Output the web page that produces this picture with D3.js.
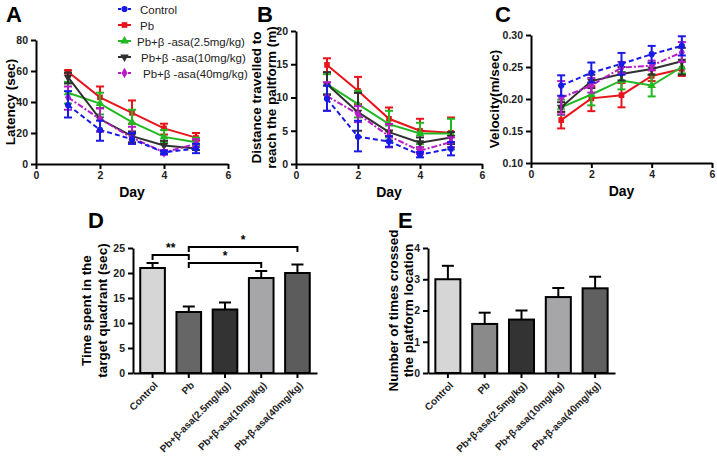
<!DOCTYPE html>
<html><head><meta charset="utf-8">
<script src="https://cdn.jsdelivr.net/npm/d3@7"></script>
<style>
body{margin:0;background:#fff;}
text{font-family:"Liberation Sans",Arial,sans-serif;}
</style></head>
<body><svg id="c" width="717" height="458"></svg>
<script>
const days = [1,2,3,4,5];
const seriesNames = ["Control","Pb","Pb+β -asa(2.5mg/kg)","Pb+β -asa(10mg/kg)","Pb+β -asa(40mg/kg)"];
const seriesColors = ["#1a1ae6","#e8141b","#22b822","#303030","#b81cc8"];
const seriesDash = ["5,3","","","","6,2,2,2"];
const seriesShape = ["circle","square","triangle","triangleDown","diamond"];

// Panel A: latency (mean, lower, upper)
const latMean = [[38,22,16,7.5,10],[59.5,43,33,23,17],[46,39,27,17.5,14],[56,29,18,12,10],[43,29,17,7.5,13]];
const latLo   = [[30,15,13,6.5,7],[58.5,36,26,19,15],[39,32,20,14,12],[52,21,14,8,9],[35,21,13,6,11]];
const latHi   = [[47,28,20,8.5,13],[60.5,50,41,26,20],[53,46,35,22,17],[59,36,21,15,11],[50,36,24,9,16]];
// Panel B: distance
const distMean = [[9.8,4.1,3.4,1.4,2.3],[14.9,11,6.8,5,4.7],[12,9,6,4.6,4.6],[12,7.8,4.8,3.2,4],[10.2,7.5,4.2,2,3.3]];
const distLo   = [[8,1.9,2.6,1,1.3],[13.8,9,5,3,2.5],[10.5,7,4,3,2.2],[10.4,5,3.5,2.5,3],[8,6.3,2.5,1.5,2.5]];
const distHi   = [[11.8,6.5,4.2,1.8,3.3],[15.9,13.1,8.5,6.8,7],[13.5,11,8,6.2,6.8],[13.8,10.7,6,4,4.8],[12.3,8.7,6,2.5,4]];
// Panel C: velocity
const velMean = [[0.221,0.241,0.255,0.270,0.283],[0.167,0.201,0.206,0.236,0.247],[0.187,0.207,0.229,0.221,0.250],[0.187,0.228,0.239,0.247,0.259],[0.202,0.221,0.249,0.252,0.273]];
const velLo   = [[0.205,0.226,0.238,0.256,0.268],[0.154,0.181,0.187,0.228,0.236],[0.175,0.190,0.215,0.204,0.240],[0.180,0.217,0.229,0.238,0.238],[0.176,0.210,0.240,0.245,0.258]];
const velHi   = [[0.237,0.257,0.272,0.283,0.298],[0.180,0.220,0.225,0.245,0.258],[0.199,0.225,0.242,0.238,0.260],[0.195,0.238,0.250,0.257,0.280],[0.228,0.233,0.258,0.260,0.289]];
const dayTicks = [0,2,4,6];

// Bar panels
const barCats = ["Control","Pb","Pb+β-asa(2.5mg/kg)","Pb+β-asa(10mg/kg)","Pb+β-asa(40mg/kg)"];
const timeMean = [21,12.2,12.7,19,20];
const timeHi   = [22,13.3,14.1,20.4,21.7];
const crossMean = [3.0,1.57,1.71,2.43,2.71];
const crossHi   = [3.43,1.93,2.0,2.72,3.08];
const barColorsD = ["#d6d6d6","#666666","#333333","#a6a6a8","#5c5c5c"];
const barColorsE = ["#d6d6d6","#8a8a8a","#333333","#a6a6a8","#606060"];
const sigLabels = ["**","*","*"];

const svg = d3.select("#c");

function sym(shape){
  const m = {circle:d3.symbolCircle,square:d3.symbolSquare,triangle:d3.symbolTriangle,triangleDown:d3.symbolTriangle,diamond:d3.symbolDiamond};
  return d3.symbol().type(m[shape]).size(shape==="circle"?30:32)();
}
function styleAxis(g){
  g.selectAll("path.domain").attr("stroke","#000").attr("stroke-width",2);
  g.selectAll(".tick line").attr("stroke","#000").attr("stroke-width",2);
  g.selectAll(".tick text").attr("font-size",10.5).attr("font-weight","bold").attr("fill","#222");
}
function linePanel(xr, yr, ydom, yticks, yfmt, mean, lo, hi, ylabels, ylabX, label, labelX){
  const x = d3.scaleLinear().domain([0,6]).range(xr);
  const y = d3.scaleLinear().domain(ydom).range(yr);
  const gx = svg.append("g").attr("transform",`translate(0,${yr[0]})`)
    .call(d3.axisBottom(x).tickValues(dayTicks).tickSize(5).tickSizeOuter(0).tickFormat(d3.format("d")));
  styleAxis(gx);
  const gy = svg.append("g").attr("transform",`translate(${xr[0]},0)`)
    .call(d3.axisLeft(y).tickValues(yticks).tickSize(5).tickSizeOuter(0).tickFormat(yfmt));
  styleAxis(gy);
  const order=[1,2,3,4,0];
  order.forEach(i=>{
    const g = svg.append("g");
    const col = seriesColors[i];
    days.forEach((d,j)=>{
      const cx=x(d);
      g.append("line").attr("x1",cx).attr("x2",cx).attr("y1",y(lo[i][j])).attr("y2",y(hi[i][j])).attr("stroke",col).attr("stroke-width",2);
      [lo[i][j],hi[i][j]].forEach(v=>g.append("line").attr("x1",cx-4).attr("x2",cx+4).attr("y1",y(v)).attr("y2",y(v)).attr("stroke",col).attr("stroke-width",2));
    });
    g.append("path").datum(mean[i]).attr("fill","none").attr("stroke",col).attr("stroke-width",2)
      .attr("stroke-dasharray",seriesDash[i]||null)
      .attr("d",d3.line().x((v,j)=>x(days[j])).y(v=>y(v)));
    days.forEach((d,j)=>{
      g.append("path").attr("d",sym(seriesShape[i]))
        .attr("transform",`translate(${x(d)},${y(mean[i][j])})${seriesShape[i]==="triangleDown"?" rotate(180)":""}`)
        .attr("fill",col);
    });
  });
  svg.append("text").attr("x",(xr[0]+xr[1])/2).attr("y",yr[0]+33).attr("text-anchor","middle")
    .attr("font-size",14).attr("font-weight","bold").text("Day");
  const cy=(yr[0]+yr[1])/2;
  ylabels.forEach((t,k)=>{
    svg.append("text").attr("transform",`translate(${ylabX[k]},${cy}) rotate(-90)`).attr("text-anchor","middle")
      .attr("font-size",13.5).attr("font-weight","bold").text(t);
  });
  svg.append("text").attr("x",labelX).attr("y",22).attr("font-size",22).attr("font-weight","bold").text(label);
}

linePanel([36,228],[164,40],[0,80],[0,20,40,60,80],d3.format("d"),latMean,latLo,latHi,["Latency (sec)"],[15],"A",6);
linePanel([296,482],[164,31],[0,20],[0,5,10,15,20],d3.format("d"),distMean,distLo,distHi,["Distance travelled to","reach the paltform (m)"],[261,276],"B",257);
linePanel([531,712],[163,35],[0.10,0.30],[0.10,0.15,0.20,0.25,0.30],d3.format(".2f"),velMean,velLo,velHi,["Velocity(m/sec)"],[499],"C",495);

// legend
const lg = svg.append("g");
seriesNames.forEach((n,i)=>{
  const yy = 9+i*16;
  lg.append("line").attr("x1",118).attr("x2",131).attr("y1",yy).attr("y2",yy).attr("stroke",seriesColors[i]).attr("stroke-width",2)
    .attr("stroke-dasharray",i===0?"3,2":(i===4?"3,2":null));
  lg.append("path").attr("d",sym(seriesShape[i])).attr("transform",`translate(124.5,${yy})${seriesShape[i]==="triangleDown"?" rotate(180)":""}`).attr("fill",seriesColors[i]);
  lg.append("text").attr("x",[140,140,137,141,143][i]).attr("y",yy+4.5).attr("font-size",11.5).attr("fill","#222").text(n);
});

function barPanel(xr, yr, ydom, yticks, mean, hi, colors, ylabels, ylabX, label, labelX){
  const x = d3.scaleBand().domain(barCats).range(xr).paddingInner(0.32).paddingOuter(0.2);
  const y = d3.scaleLinear().domain(ydom).range(yr);
  barCats.forEach((c,i)=>{
    const cx = x(c)+x.bandwidth()/2;
    svg.append("line").attr("x1",cx).attr("x2",cx).attr("y1",y(mean[i])).attr("y2",y(hi[i])).attr("stroke","#000").attr("stroke-width",2);
    svg.append("line").attr("x1",cx-6).attr("x2",cx+6).attr("y1",y(hi[i])).attr("y2",y(hi[i])).attr("stroke","#000").attr("stroke-width",2);
    svg.append("rect").attr("x",x(c)).attr("y",y(mean[i])).attr("width",x.bandwidth()).attr("height",y(0)-y(mean[i]))
      .attr("fill",colors[i]).attr("stroke","#000").attr("stroke-width",2);
  });
  const gx = svg.append("g").attr("transform",`translate(0,${yr[0]})`).call(d3.axisBottom(x).tickSize(5).tickSizeOuter(0));
  styleAxis(gx);
  gx.selectAll(".tick text").attr("text-anchor","end").attr("y",0).attr("dy",0)
    .attr("transform","translate(6,13) rotate(-45)").attr("font-size",10);
  const gy = svg.append("g").attr("transform",`translate(${xr[0]},0)`)
    .call(d3.axisLeft(y).tickValues(yticks).tickSize(5).tickSizeOuter(0).tickFormat(d3.format("d")));
  styleAxis(gy);
  const cy=(yr[0]+yr[1])/2;
  ylabels.forEach((t,k)=>{
    svg.append("text").attr("transform",`translate(${ylabX[k]},${cy}) rotate(-90)`).attr("text-anchor","middle")
      .attr("font-size",13.5).attr("font-weight","bold").text(t);
  });
  svg.append("text").attr("x",labelX).attr("y",228).attr("font-size",22).attr("font-weight","bold").text(label);
  return {x,y};
}

const D = barPanel([133,317],[373,248],[0,25],[0,5,10,15,20,25],timeMean,timeHi,barColorsD,["Time spent in the","target quadrant (sec)"],[91,107],"D",88);
barPanel([428,615],[373,248],[0,4],[0,1,2,3,4],crossMean,crossHi,barColorsE,["Number of times crossed","the platform location"],[398,413],"E",398);

// significance brackets in D
const cen = i=>D.x(barCats[i])+D.x.bandwidth()/2;
const brackets = [[0,1,23.6,sigLabels[0]],[1,4,25.2,sigLabels[1]],[1,3,22.0,sigLabels[2]]];
brackets.forEach(([a,b,v,t])=>{
  const yy=D.y(v);
  svg.append("path").attr("d",`M${cen(a)},${yy+5}V${yy}H${cen(b)}V${yy+5}`).attr("fill","none").attr("stroke","#000").attr("stroke-width",2);
  svg.append("text").attr("x",(cen(a)+cen(b))/2).attr("y",yy-3).attr("text-anchor","middle").attr("font-size",12).attr("font-weight","bold").text(t);
});
</script></body></html>
